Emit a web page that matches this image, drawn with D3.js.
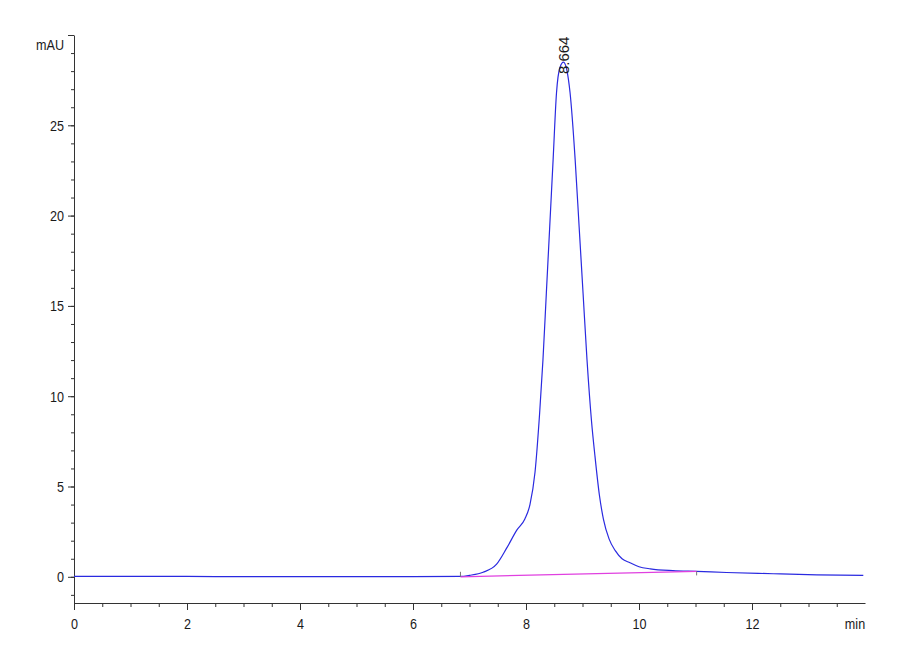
<!DOCTYPE html>
<html>
<head>
    <meta charset="UTF-8">
    <title>Chromatogram</title>
    <script src="https://d3js.org/d3.v7.min.js"></script>
    <style>
        body {
            margin: 0;
            padding: 0;
            background: #fff;
        }
        .axis text, .label {
            font-family: "Liberation Sans", Arial, sans-serif;
            font-size: 15px;
            fill: #1a1a1a;
        }
        .axis path, .axis line {
            stroke: #333;
        }
    </style>
</head>
<body>
    <svg id="chart" width="900" height="660"></svg>

    <script>
        // signal trace (min, mAU)
        const times = [0, 1, 2, 3, 4, 5, 6, 6.84, 7.0, 7.24, 7.48, 7.66, 7.84, 7.98, 8.07, 8.16,
            8.24, 8.30, 8.36, 8.42, 8.48, 8.54, 8.60, 8.664, 8.72, 8.78, 8.87, 8.94, 9.01, 9.08,
            9.16, 9.22, 9.30, 9.37, 9.47, 9.58, 9.70, 9.84, 10.0, 10.2, 10.6, 11.02, 11.55,
            12.38, 13.15, 13.97];
        const signal = [0.02, 0.02, 0.02, 0.01, 0.01, 0.01, 0.01, 0.02, 0.08, 0.25, 0.7, 1.6,
            2.6, 3.2, 4.0, 5.8, 9.0, 12.0, 15.7, 19.4, 23.1, 26.8, 28.2, 28.5, 28.1, 26.8,
            23.1, 19.4, 15.7, 12.0, 8.6, 6.7, 4.5, 3.2, 2.1, 1.45, 1.0, 0.78, 0.56, 0.44, 0.34,
            0.3, 0.24, 0.17, 0.11, 0.08];

        // integration baseline (start / end)
        const baseTimes = [6.84, 11.02];
        const baseValues = [0.0, 0.3];

        const peakTime = 8.664;
        const peakValue = 28.5;
        const peakLabel = "8.664";

        const xMajor = [0, 2, 4, 6, 8, 10, 12];
        const yMajor = [0, 5, 10, 15, 20, 25];
        const xMinor = d3.range(0, 14, 0.5);
        const yMinor = d3.range(-1, 31, 1);

        const narrow = 0.84; // squeeze Liberation Sans into an Arial Narrow look

        const svg = d3.select("#chart");

        const x = d3.scaleLinear().domain([0, 14]).range([74, 865]);
        const y = d3.scaleLinear().domain([-1.45, 30]).range([603, 35]);

        // minor ticks first
        svg.append("g")
            .attr("class", "axis")
            .attr("transform", `translate(0,${y.range()[0]})`)
            .call(d3.axisBottom(x).tickValues(xMinor).tickSize(4).tickFormat(""))
            .call(g => g.select(".domain").remove());

        svg.append("g")
            .attr("class", "axis")
            .attr("transform", `translate(${x.range()[0]},0)`)
            .call(d3.axisLeft(y).tickValues(yMinor).tickSize(3).tickFormat(""))
            .call(g => g.select(".domain").remove());

        svg.append("g")
            .attr("class", "axis")
            .attr("transform", `translate(0,${y.range()[0]})`)
            .call(d3.axisBottom(x).tickValues(xMajor).tickSizeInner(7).tickSizeOuter(0)
                .tickPadding(8).tickFormat(d3.format("d")))
            .selectAll("text")
            .attr("transform", `scale(${narrow},1)`);

        svg.append("g")
            .attr("class", "axis")
            .attr("transform", `translate(${x.range()[0]},0)`)
            .call(d3.axisLeft(y).tickValues(yMinor.filter(d => yMajor.includes(d) || d === 30))
                .tickSizeInner(6).tickSizeOuter(0).tickPadding(4)
                .tickFormat(d => yMajor.includes(d) ? d : ""))
            .selectAll("text")
            .attr("x", -10 / narrow)
            .attr("transform", `scale(${narrow},1)`);

        svg.append("text")
            .attr("class", "label")
            .attr("transform", `translate(855,629) scale(${narrow},1)`)
            .attr("text-anchor", "middle")
            .text("min");

        svg.append("text")
            .attr("class", "label")
            .attr("transform", `translate(64,50) scale(${narrow},1)`)
            .attr("text-anchor", "end")
            .text("mAU");

        const line = d3.line()
            .x((d, i) => x(times[i]))
            .y(d => y(d))
            .curve(d3.curveMonotoneX);

        svg.append("path")
            .attr("d", line(signal))
            .attr("fill", "none")
            .attr("stroke", "#2a2ae0")
            .attr("stroke-width", 1.2);

        // baseline drawn over the trace
        svg.append("path")
            .attr("d", d3.line().x((d, i) => x(baseTimes[i])).y(d => y(d))(baseValues))
            .attr("fill", "none")
            .attr("stroke", "#e040e0")
            .attr("stroke-width", 1.2);

        // start/end markers
        svg.selectAll(".mark")
            .data(baseValues)
            .enter()
            .append("line")
            .attr("x1", (d, i) => x(baseTimes[i]))
            .attr("x2", (d, i) => x(baseTimes[i]))
            .attr("y1", d => y(d))
            .attr("y2", (d, i) => y(d) + (i === 0 ? -5 : 4))
            .attr("stroke", "#777")
            .attr("stroke-width", 1);

        svg.append("text")
            .attr("transform", `translate(${x(peakTime) + 5},${y(peakValue) + 12}) rotate(-90)`)
            .style("font-family", "'Liberation Sans', Arial, sans-serif")
            .style("font-size", "15px")
            .attr("fill", "#1a1a1a")
            .text(peakLabel);
    </script>
</body>
</html>
